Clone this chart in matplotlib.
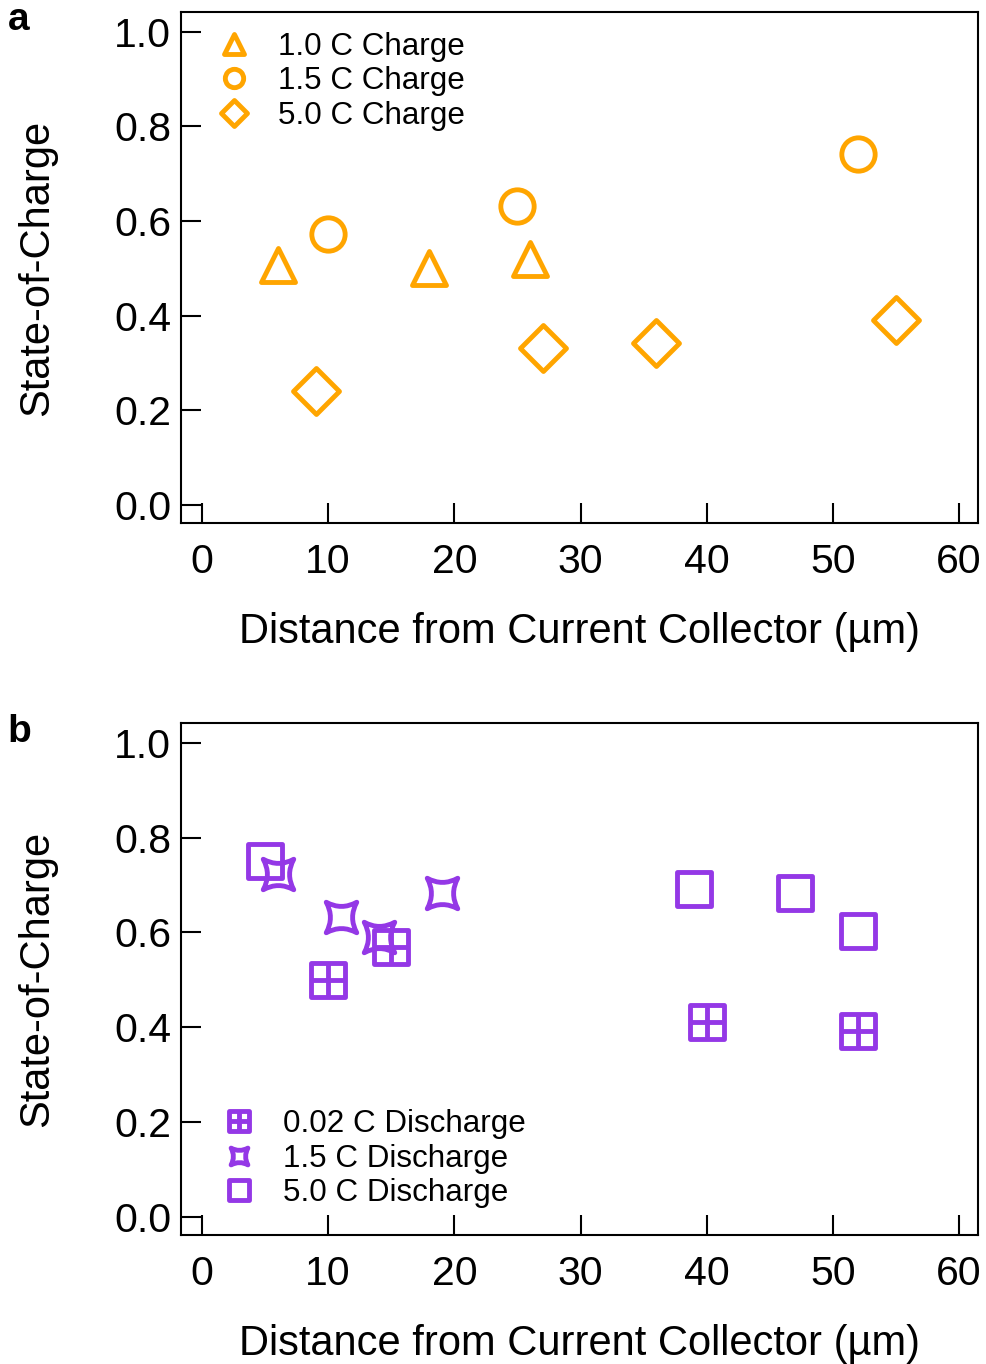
import numpy as np
import matplotlib.pyplot as plt
from matplotlib.path import Path
from matplotlib.markers import MarkerStyle

plt.rcParams['font.family'] = ['Liberation Sans', 'DejaVu Sans']

ORANGE = '#FFA500'
PURPLE = '#9438E6'

# panel a: charge
a_x_10 = [6, 18, 26]
a_y_10 = [0.507, 0.50, 0.52]
a_x_15 = [10, 25, 52]
a_y_15 = [0.573, 0.632, 0.742]
a_x_50 = [9, 27, 36, 55]
a_y_50 = [0.241, 0.332, 0.342, 0.391]

# panel b: discharge
b_x_002 = [10, 15, 40, 52]
b_y_002 = [0.50, 0.57, 0.411, 0.392]
b_x_15 = [6, 11, 14, 19]
b_y_15 = [0.724, 0.633, 0.59, 0.684]
b_x_50 = [5, 39, 47, 52]
b_y_50 = [0.751, 0.692, 0.684, 0.603]

xticks = [0, 10, 20, 30, 40, 50, 60]
yticks = [0.0, 0.2, 0.4, 0.6, 0.8, 1.0]

# square with a cross inside
grid_sq = Path([(-1, -1), (1, -1), (1, 1), (-1, 1), (-1, -1),
                (0, -1), (0, 1), (-1, 0), (1, 0)],
               [Path.MOVETO, Path.LINETO, Path.LINETO, Path.LINETO, Path.CLOSEPOLY,
                Path.MOVETO, Path.LINETO, Path.MOVETO, Path.LINETO])
# four pointed star, concave sides
k = 0.45
star = Path([(-1, 1), (0, k), (1, 1), (k, 0), (1, -1), (0, -k), (-1, -1), (-k, 0), (-1, 1), (-1, 1)],
            [Path.MOVETO, Path.CURVE3, Path.CURVE3, Path.CURVE3, Path.CURVE3,
             Path.CURVE3, Path.CURVE3, Path.CURVE3, Path.CURVE3, Path.CLOSEPOLY])


def mk(m):
    return MarkerStyle(m, fillstyle='none', joinstyle='round')


def style(ax):
    ax.set_xlim(-1.66, 61.5)
    ax.set_ylim(-0.038, 1.042)
    ax.set_xticks(xticks)
    ax.set_yticks(yticks)
    ax.set_yticklabels(['%.1f' % v for v in yticks])
    ax.tick_params(direction='in', length=14.5, width=1.5, labelsize=29.5)
    ax.tick_params(axis='x', pad=14.5)
    ax.tick_params(axis='y', pad=7)
    for s in ax.spines.values():
        s.set_linewidth(1.5)
    ax.set_xlabel('Distance from Current Collector (µm)', fontsize=30, labelpad=22)
    ax.set_ylabel('State-of-Charge', fontsize=30, labelpad=41)


fig = plt.figure(figsize=(9.86, 13.64), dpi=100)
ax1 = fig.add_axes([0.1836, 0.6166, 0.8083, 0.3746])
ax2 = fig.add_axes([0.1836, 0.0946, 0.8083, 0.3754])

mew = 3.5
ax1.plot(a_x_10, a_y_10, ls='none', marker=mk('^'), ms=25, mec=ORANGE, mew=mew, label='1.0 C Charge')
ax1.plot(a_x_15, a_y_15, ls='none', marker=mk('o'), ms=24, mec=ORANGE, mew=mew, label='1.5 C Charge')
ax1.plot(a_x_50, a_y_50, ls='none', marker=mk('D'), ms=23.5, mec=ORANGE, mew=mew, label='5.0 C Charge')
style(ax1)
ax1.legend(loc='upper left', bbox_to_anchor=(0.008, 1.017), frameon=False, fontsize=22.6,
           markerscale=0.55, handletextpad=0.78, labelspacing=0.15, handlelength=1.2)

ax2.plot(b_x_002, b_y_002, ls='none', marker=mk(grid_sq), ms=25, mec=PURPLE, mew=mew, label='0.02 C Discharge')
ax2.plot(b_x_15, b_y_15, ls='none', marker=mk(star), ms=22, mec=PURPLE, mew=mew, label='1.5 C Discharge')
ax2.plot(b_x_50, b_y_50, ls='none', marker=mk('s'), ms=25, mec=PURPLE, mew=mew, label='5.0 C Discharge')
style(ax2)
ax2.legend(loc='lower left', bbox_to_anchor=(0.014, -0.003), frameon=False, fontsize=22.6,
           markerscale=0.55, handletextpad=0.78, labelspacing=0.15, handlelength=1.2)

fig.text(0.008, 0.985, 'a', fontsize=28, fontweight='bold', va='center')
fig.text(0.008, 0.463, 'b', fontsize=28, fontweight='bold', va='center')

fig.savefig('out.png', dpi=100)
